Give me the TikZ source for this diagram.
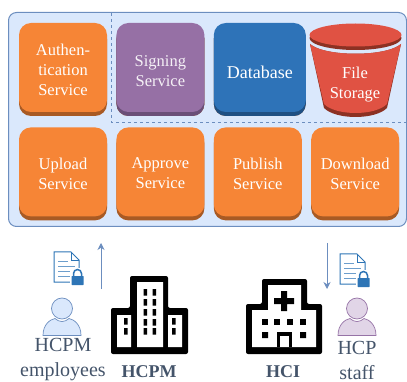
\documentclass[tikz,border=0pt]{standalone}
\usepackage{fontspec}
\setmainfont{Liberation Serif}
\usetikzlibrary{positioning}
\usetikzlibrary{shadows}
\usetikzlibrary{arrows.meta}
\definecolor{panelfill}{HTML}{DAE8FC}
\definecolor{paneledge}{HTML}{6C8EBF}
\definecolor{svcorange}{HTML}{F68536}
\definecolor{svcorangedk}{HTML}{A85A24}
\definecolor{svcpurple}{HTML}{9670A5}
\definecolor{svcpurpledk}{HTML}{6A4F78}
\definecolor{svcblue}{HTML}{2E73B8}
\definecolor{svcbluedk}{HTML}{1F5083}
\definecolor{bucketred}{HTML}{E05243}
\definecolor{bucketdk}{HTML}{8C3123}
\definecolor{labelgray}{HTML}{44546A}
\definecolor{docblue}{HTML}{2E75B6}
\definecolor{usrblue}{HTML}{DAE8FC}
\definecolor{usrpurple}{HTML}{E1D5E7}
\definecolor{usrpurpleln}{HTML}{9673A6}
\newcommand{\svcfont}{\fontsize{16.5}{20}\selectfont}
\tikzset{
  docicon/.pic={
    \draw[docblue,line width=1pt,fill=white] (-12,-15) -- (5,-15) -- (13,-7) -- (13,15) -- (-12,15) -- cycle;
    \draw[docblue,line width=.8pt] (5,-15) -- (5,-7) -- (13,-7);
    \draw[docblue!70,line width=.9pt] (-8,-6) -- (2,-6) (-8,-1) -- (9,-1) (-8,4) -- (9,4) (-8,9) -- (4,9);
    \fill[white] (4,1) rectangle (19,19);
    \draw[docblue,line width=1.5pt] (7.5,9) -- (7.5,6.5) arc[start angle=180,end angle=0,radius=4pt] -- (15.5,9);
    \fill[docblue,rounded corners=.5pt] (5.5,9) rectangle (17.5,18);
  },
  usericon/.pic={
    \draw[pic actions,line width=.7pt] (0,0) circle[radius=10.5pt];
    \draw[pic actions,line width=.7pt] (-19,27) .. controls (-19,16) and (-12,11) .. (-7,10)
      .. controls (-3,14) and (3,14) .. (7,10) .. controls (12,11) and (19,16) .. (19,27) -- cycle;
  },
}
\begin{document}
\begin{tikzpicture}
  [
    x=1pt,y=-1pt,
    service/.style={
      rectangle,
      rounded corners=12pt,
      fill=svcorange,
      inner sep=0pt,
      minimum height=89pt,minimum width=88pt,
      drop shadow={shadow xshift=0pt,shadow yshift=-4pt,opacity=1,fill=svcorangedk}
    },
    svctext/.style={text=white,inner sep=0pt,align=center,font=\svcfont,yshift=-1.5pt},
    node distance=15pt and 9pt,
    caption/.style={text=labelgray,inner sep=0pt,align=center,font=\fontsize{20}{25}\selectfont},
    orgname/.style={text=labelgray,inner sep=0pt,font=\fontsize{18}{20}\selectfont\bfseries},
    flow/.style={paneledge,line width=.8pt,-{Stealth[length=7pt,width=7pt]}},
  ]
  \useasboundingbox (0,0) rectangle (407,382);
  \draw[paneledge,line width=1pt,fill=panelfill,rounded corners=8pt] (8.5,12.5) rectangle (406.5,226.5);
  \draw[paneledge,dashed,line width=.6pt] (111.5,13) -- (111.5,122.5) -- (406,122.5);

  % top row
  \node[service,label={[svctext,yshift=-1pt]center:{Authen-\\tication\\Service}}] (auth) at (63,67.5) {};
  \node[service,right=of auth,fill=svcpurple,
        label={[svctext,yshift=-2.5pt,text=white!90!svcpurple]center:{Signing\\Service}},
        drop shadow={shadow xshift=0pt,shadow yshift=-4pt,opacity=1,fill=svcpurpledk}] (sign) {};
  \node[service,right=of sign,fill=svcblue,minimum width=92pt,
        label={[svctext,yshift=-3pt,font=\fontsize{18}{20}\selectfont]center:Database},
        drop shadow={shadow xshift=0pt,shadow yshift=-4pt,opacity=1,fill=svcbluedk}] (db) {};

  % bucket
  \fill[bucketdk] (310,44) .. controls (325,57) and (386,57) .. (401,44) -- (387,108)
     .. controls (375,120) and (336,120) .. (324,108) -- cycle;
  \fill[bucketred] (310,44) .. controls (325,57) and (386,57) .. (401,44) -- (387,104)
     .. controls (375,116) and (336,116) .. (324,104) -- cycle;
  \fill[bucketdk] (355.5,38) ellipse[x radius=46pt,y radius=12pt];
  \fill[bucketred] (355.5,35) ellipse[x radius=46pt,y radius=11.5pt];
  \node[text=white,align=center,font=\svcfont,inner sep=0pt] (store) at (355,84.5) {File\\Storage};

  % bottom row
  \node[service,below=of auth,label={[svctext]center:{Upload\\Service}}]  (upload)   {};
  \node[service,right=of upload,label={[svctext]center:{Approve\\Service}}] (approve)  {};
  \node[service,right=of approve,label={[svctext]center:{Publish\\Service}}] (publish) {};
  \node[service,right=of publish,label={[svctext]center:{Download\\Service}}] (download) {};

  % users and files
  \pic at (66,267) {docicon};
  \pic at (352,269) {docicon};
  \pic[fill=usrblue,draw=paneledge] at (62,308.5) {usericon};
  \pic[fill=usrpurple,draw=usrpurpleln] at (357,308.5) {usericon};

  \coordinate (upfrom) at (101,289);
  \coordinate (upto) at (101,243);
  \coordinate (downfrom) at (327,243);
  \coordinate (downto) at (327,289);
  \draw[flow] (upfrom) -- (upto);
  \draw[flow] (downfrom) -- (downto);

  % company building
  \fill[black,rounded corners=2pt] (111,354) -- (111,308) -- (130,308) -- (130,276) -- (168,276) -- (168,308) -- (188,308) -- (188,354) -- cycle;
  \fill[white] (137,282) rectangle (163,347) (117,315) rectangle (131,347) (168,315) rectangle (182,347);
  \foreach \rowy in {292,302,312,322,331}{
    \fill[black] (143.5,\rowy-3) rectangle +(3.5,6.5) (152.5,\rowy-3) rectangle +(3.5,6.5);
  }
  \foreach \rowy in {321,331}{
    \fill[black] (124,\rowy-3) rectangle +(3.5,6.5) (172,\rowy-3) rectangle +(3.5,6.5);
  }

  % hospital
  \fill[black,rounded corners=2pt] (246,354) -- (246,304) -- (262,304) -- (262,279) -- (307,279) -- (307,304) -- (322,304) -- (322,354) -- cycle;
  \fill[white] (268,285) rectangle (301,312) (252,310) rectangle (316,347);
  \fill[black] (281,291) rectangle (287,311) (274,298) rectangle (294,304);
  \foreach \winx in {262,274,287,300}{
    \fill[black] (\winx,319) rectangle +(6,6);
  }
  \fill[black] (262,332) rectangle +(6,6) (300,332) rectangle +(6,6);
  \fill[black] (277,332) rectangle (292,347);
  \fill[white] (280,336) rectangle (289,347);

  % captions
  \node[caption] (hcpmstaff) at (63,360) {HCPM\\employees};
  \node[caption] (hcpstaff) at (357,360) {HCP\\staff};
  \node[orgname] (hcpm) at (149,372) {HCPM};
  \node[orgname] (hci) at (283,372) {HCI};
\end{tikzpicture}
\end{document}
